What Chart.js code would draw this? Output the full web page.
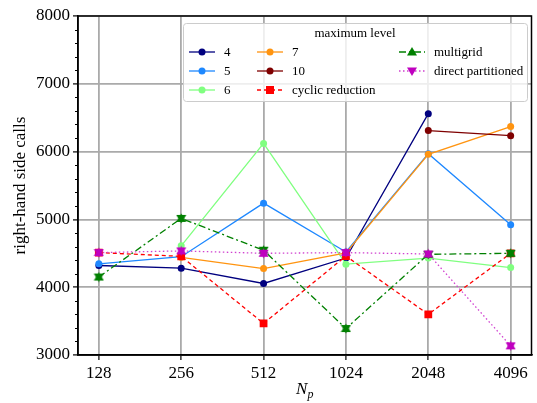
<!DOCTYPE html>
<html><head><meta charset="utf-8">
<script src="https://cdn.jsdelivr.net/npm/chart.js@4.4.1/dist/chart.umd.min.js"></script>
<style>html,body{margin:0;padding:0;background:#fff}#wrap{width:537px;height:403px}</style>
</head><body><div id="wrap"><canvas id="c" width="537" height="403"></canvas></div>
<script>
// ---- data ----
const categories = [128, 256, 512, 1024, 2048, 4096];
const level4 = [4320, 4280, 4055, 4430, 6560, null];
const level5 = [4345, 4450, 5240, 4520, 5970, 4920];
const level6 = [null, 4610, 6120, 4340, 4430, 4290];
const level7 = [null, 4440, 4275, 4505, 5960, 6370];
const level10 = [null, null, null, null, 6310, 6235];
const cyclicReduction = [4510, 4455, 3465, 4460, 3600, 4500];
const multigrid = [4150, 5015, 4545, 3390, 4485, 4500];
const directPartitioned = [4510, 4535, 4500, 4510, 4490, 3135];
const yTicks = [3000, 4000, 5000, 6000, 7000, 8000];
const legendTitle = 'maximum level';
const seriesNames = ['4', '5', '6', '7', '10', 'cyclic reduction', 'multigrid', 'direct partitioned'];

const SERIF = "'Liberation Serif','Times New Roman','DejaVu Serif',serif";

function hourglass(color) {
  const c = document.createElement('canvas');
  c.width = 11; c.height = 11;
  const g = c.getContext('2d');
  g.fillStyle = color;
  g.beginPath(); g.moveTo(5.5, 0.5); g.lineTo(10.5, 9); g.lineTo(0.5, 9); g.closePath(); g.fill();
  g.beginPath(); g.moveTo(5.5, 10.5); g.lineTo(10.5, 2); g.lineTo(0.5, 2); g.closePath(); g.fill();
  return c;
}

function pts(arr) {
  const out = [];
  arr.forEach((v, i) => { if (v !== null) out.push({x: i, y: v}); });
  return out;
}

const styles = [
  {color: '#00007f', line: '#00007f', dash: [], ps: 'circle', r: 3.5, leg: 'circle'},
  {color: '#1e88ff', line: '#1e88ff', dash: [], ps: 'circle', r: 3.5, leg: 'circle'},
  {color: '#80ff80', line: '#80ff80', dash: [], ps: 'circle', r: 3.5, leg: 'circle'},
  {color: '#ff9410', line: '#ff9410', dash: [], ps: 'circle', r: 3.5, leg: 'circle'},
  {color: '#7f0000', line: '#7f0000', dash: [], ps: 'circle', r: 3.5, leg: 'circle'},
  {color: '#ff0000', line: '#ff0000', dash: [4, 3], ps: 'rect', r: 5.5, leg: 'rect'},
  {color: '#008000', line: '#008000', dash: [7, 3, 2, 3], ps: hourglass('#008000'), r: 5, leg: 'up'},
  {color: '#bf00bf', line: '#d040d0', dash: [1.5, 2.5], ps: hourglass('#bf00bf'), r: 5, leg: 'down'}
];
const allData = [level4, level5, level6, level7, level10, cyclicReduction, multigrid, directPartitioned];

const datasets = allData.map((arr, i) => ({
  label: seriesNames[i],
  data: pts(arr),
  borderColor: styles[i].line,
  backgroundColor: styles[i].color,
  pointBackgroundColor: styles[i].color,
  pointBorderColor: styles[i].color,
  pointBorderWidth: 0,
  borderWidth: 1.3,
  borderDash: styles[i].dash,
  pointStyle: styles[i].ps,
  pointRadius: styles[i].r,
  tension: 0,
  fill: false,
  order: allData.length - i
}));

function drawMarker(ctx, kind, x, y, color) {
  ctx.save();
  ctx.fillStyle = color;
  ctx.setLineDash([]);
  ctx.beginPath();
  if (kind === 'circle') { ctx.arc(x, y, 3.5, 0, Math.PI * 2); }
  else if (kind === 'rect') { ctx.rect(x - 4, y - 4, 8, 8); }
  else if (kind === 'up') { ctx.moveTo(x, y - 5); ctx.lineTo(x + 5, y + 3.5); ctx.lineTo(x - 5, y + 3.5); ctx.closePath(); }
  else if (kind === 'down') { ctx.moveTo(x, y + 5); ctx.lineTo(x + 5, y - 3.5); ctx.lineTo(x - 5, y - 3.5); ctx.closePath(); }
  ctx.fill();
  ctx.restore();
}

const decor = {
  id: 'decor',
  afterDraw(chart) {
    const ctx = chart.ctx;
    const a = chart.chartArea;
    const ys = chart.scales.y;
    ctx.save();
    // frame
    ctx.strokeStyle = '#000'; ctx.lineWidth = 1.5; ctx.setLineDash([]);
    ctx.strokeRect(a.left, a.top, a.right - a.left, a.bottom - a.top);
    // minor ticks on y
    ctx.lineWidth = 1;
    for (let v = 3000; v <= 8000; v += 200) {
      if (v % 1000 === 0) continue;
      const py = Math.round(ys.getPixelForValue(v)) + 0.5;
      ctx.beginPath(); ctx.moveTo(a.left - 3, py); ctx.lineTo(a.left, py); ctx.stroke();
    }
    // x title N_p
    ctx.fillStyle = '#000';
    ctx.textBaseline = 'alphabetic';
    ctx.font = 'italic 17px ' + SERIF;
    const cx = (a.left + a.right) / 2;
    const wN = ctx.measureText('N').width;
    ctx.font = 'italic 12px ' + SERIF;
    const wp = ctx.measureText('p').width;
    const x0 = cx - (wN + wp) / 2;
    ctx.font = 'italic 17px ' + SERIF;
    ctx.fillText('N', x0, 394);
    ctx.font = 'italic 12px ' + SERIF;
    ctx.fillText('p', x0 + wN, 398);

    // legend
    const bx = 183, by = 23, bw = 344, bh = 78;
    ctx.beginPath();
    if (ctx.roundRect) ctx.roundRect(bx + 0.5, by + 0.5, bw, bh, 3); else ctx.rect(bx + 0.5, by + 0.5, bw, bh);
    ctx.fillStyle = 'rgba(255,255,255,0.8)';
    ctx.fill();
    ctx.strokeStyle = '#cccccc'; ctx.lineWidth = 1; ctx.stroke();
    ctx.fillStyle = '#000';
    ctx.font = '13px ' + SERIF;
    ctx.textAlign = 'center'; ctx.textBaseline = 'middle';
    ctx.fillText(legendTitle, 355, 34);
    ctx.textAlign = 'left';
    const cols = [189, 257, 399];
    const rows = [52, 71, 90];
    const layout = [[0, 0], [0, 1], [0, 2], [1, 0], [1, 1], [1, 2], [2, 0], [2, 1]];
    layout.forEach(([c, r], i) => {
      const lx = cols[c], ly = rows[r];
      ctx.save();
      ctx.strokeStyle = styles[i].line; ctx.lineWidth = 1.3;
      ctx.setLineDash(styles[i].dash);
      ctx.beginPath(); ctx.moveTo(lx, ly); ctx.lineTo(lx + 26, ly); ctx.stroke();
      ctx.restore();
      drawMarker(ctx, styles[i].leg, lx + 13, ly, styles[i].color);
      ctx.fillStyle = '#000';
      ctx.font = '13px ' + SERIF;
      ctx.fillText(seriesNames[i], lx + 35, ly + 1);
    });
    ctx.restore();
  }
};

const font = {family: SERIF, size: 17};
new Chart(document.getElementById('c'), {
  type: 'line',
  data: {datasets},
  plugins: [decor],
  options: {
    responsive: false,
    animation: false,
    layout: {padding: {left: 10, top: 16, right: 4, bottom: 0}},
    plugins: {legend: {display: false}, tooltip: {enabled: false}},
    scales: {
      x: {
        type: 'linear', min: -0.253, max: 5.253,
        afterBuildTicks: s => { s.ticks = categories.map((c, i) => ({value: i})); },
        afterFit: s => { s.height = 48; },
        ticks: {callback: v => String(categories[v]), font, color: '#000', padding: 3, maxRotation: 0, autoSkip: false},
        grid: {color: '#aaaaaa', lineWidth: 1.8, tickColor: '#000', tickLength: 5, tickWidth: 1.2},
        border: {color: '#000', width: 1.5}
      },
      y: {
        min: 3000, max: 8000,
        afterBuildTicks: s => { s.ticks = yTicks.map(v => ({value: v})); },
        afterFit: s => { s.width = 68; },
        ticks: {callback: v => String(v), font, color: '#000', padding: 3},
        grid: {color: '#aaaaaa', lineWidth: 1.8, tickColor: '#000', tickLength: 5, tickWidth: 1.2},
        border: {color: '#000', width: 1.5},
        title: {display: true, text: 'right-hand side calls', font, color: '#000', padding: {top: 0, bottom: 0}}
      }
    }
  }
});
</script>
</body></html>
